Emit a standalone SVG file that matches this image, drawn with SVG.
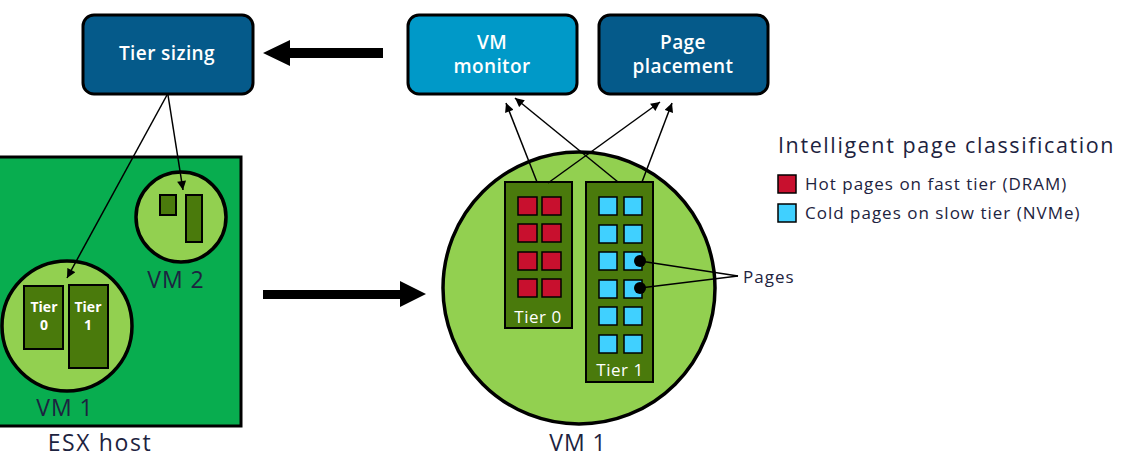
<svg xmlns="http://www.w3.org/2000/svg" width="1129" height="466" viewBox="0 0 1129 466">
<defs>
<marker id="ah" viewBox="0 0 10 10" refX="10" refY="5" markerWidth="10" markerHeight="9" markerUnits="userSpaceOnUse" orient="auto"><path d="M0,0 L10,5 L0,10 z" fill="#000"/></marker>
<style>
.box{stroke:#000;stroke-width:3}
.bt{font-family:"Open Sans","Liberation Sans",sans-serif;font-weight:600;font-size:19px;fill:#fff;text-anchor:middle;letter-spacing:0.4px}
.lbl{font-family:"Open Sans","Liberation Sans",sans-serif;font-weight:500;fill:#1d2340;text-anchor:middle;letter-spacing:1px}
.vm{fill:#92d050;stroke:#000;stroke-width:3.5}
.tier{fill:#4a7a0c;stroke:#000;stroke-width:2}
.tt{font-family:"Open Sans","Liberation Sans",sans-serif;font-weight:700;fill:#fff;text-anchor:middle}
.tl{font-family:"Open Sans","Liberation Sans",sans-serif;font-weight:400;fill:#fff;text-anchor:middle;letter-spacing:0.5px}
.hot{fill:#c8102e;stroke:#000;stroke-width:1.5}
.cold{fill:#40d0ff;stroke:#000;stroke-width:1.5}
.thin{stroke:#000;stroke-width:1.5;fill:none}
.leg{font-family:"Open Sans","Liberation Sans",sans-serif;fill:#1d2340}
</style>
</defs>
<rect width="1129" height="466" fill="#fff"/>

<g id="esx-host">
<rect x="-5" y="157" width="246" height="269" fill="#08ad4f" stroke="#000" stroke-width="3"/>
<text class="lbl" x="100" y="451" font-size="23" style="letter-spacing:1.6px">ESX host</text>
</g>

<g id="vm2-small">
<circle class="vm" cx="181" cy="217" r="45"/>
<rect class="tier" x="160" y="195" width="16" height="20"/>
<rect class="tier" x="186" y="195" width="16" height="47"/>
<text class="lbl" x="176" y="288" font-size="23">VM 2</text>
</g>

<g id="vm1-small">
<circle class="vm" cx="67" cy="326" r="65"/>
<rect class="tier" x="24" y="286" width="39" height="63"/>
<rect class="tier" x="69" y="285" width="39" height="83"/>
<text class="tt" x="44" y="312" font-size="14">Tier</text>
<text class="tt" x="44" y="330" font-size="14">0</text>
<text class="tt" x="88" y="312" font-size="14">Tier</text>
<text class="tt" x="88" y="330" font-size="14">1</text>
<text class="lbl" x="65" y="416" font-size="23">VM 1</text>
</g>

<g id="tier-sizing">
<rect class="box" x="83" y="15" width="170" height="79" rx="11" fill="#055a8a"/>
<text class="bt" x="167" y="60">Tier sizing</text>
</g>

<g id="vm-monitor">
<rect class="box" x="408" y="15" width="169" height="79" rx="11" fill="#0099c8"/>
<text class="bt" x="492" y="49">VM</text>
<text class="bt" x="492" y="73">monitor</text>
</g>

<g id="page-placement">
<rect class="box" x="599" y="15" width="169" height="79" rx="11" fill="#055a8a"/>
<text class="bt" x="683" y="49">Page</text>
<text class="bt" x="683" y="73">placement</text>
</g>

<g id="vm1-large">
<circle class="vm" cx="579" cy="288" r="136"/>
<rect class="tier" x="505" y="182" width="67" height="146"/>
<rect class="tier" x="586" y="182" width="67" height="200"/>
<g>
<rect class="hot" x="518" y="197" width="19" height="18"/><rect class="hot" x="542" y="197" width="19" height="18"/>
<rect class="hot" x="518" y="224" width="19" height="18"/><rect class="hot" x="542" y="224" width="19" height="18"/>
<rect class="hot" x="518" y="252" width="19" height="18"/><rect class="hot" x="542" y="252" width="19" height="18"/>
<rect class="hot" x="518" y="279" width="19" height="18"/><rect class="hot" x="542" y="279" width="19" height="18"/>
</g>
<g>
<rect class="cold" x="599" y="197" width="18" height="18"/><rect class="cold" x="624" y="197" width="18" height="18"/>
<rect class="cold" x="599" y="225" width="18" height="18"/><rect class="cold" x="624" y="225" width="18" height="18"/>
<rect class="cold" x="599" y="252" width="18" height="18"/><rect class="cold" x="624" y="252" width="18" height="18"/>
<rect class="cold" x="599" y="280" width="18" height="18"/><rect class="cold" x="624" y="280" width="18" height="18"/>
<rect class="cold" x="599" y="307" width="18" height="18"/><rect class="cold" x="624" y="307" width="18" height="18"/>
<rect class="cold" x="599" y="335" width="18" height="18"/><rect class="cold" x="624" y="335" width="18" height="18"/>
</g>
<text class="tl" x="538" y="323" font-size="17">Tier 0</text>
<text class="tl" x="620" y="376" font-size="17">Tier 1</text>
<text class="lbl" x="578" y="451" font-size="23">VM 1</text>
</g>

<g id="pages-label">
<text class="leg" x="743" y="283" font-size="17" style="letter-spacing:1px">Pages</text>
</g>

<g id="legend">
<text class="leg" x="778" y="153" font-size="21.5" style="letter-spacing:1.6px">Intelligent page classification</text>
<rect class="hot" x="778" y="175" width="18" height="18"/>
<text class="leg" x="805" y="190" font-size="17" style="letter-spacing:1px">Hot pages on fast tier (DRAM)</text>
<rect class="cold" x="778" y="204" width="18" height="18"/>
<text class="leg" x="805" y="219" font-size="17" style="letter-spacing:1px">Cold pages on slow tier (NVMe)</text>
</g>

<g id="connectors">
<path d="M383,48 L290,48 L290,40 L263,53 L290,66 L290,58 L383,58 z" fill="#000"/>
<path d="M263,290 L400,290 L400,281 L426,294 L400,307 L400,299 L263,299 z" fill="#000"/>
<line class="thin" x1="167" y1="95" x2="67" y2="278" marker-end="url(#ah)"/>
<line class="thin" x1="168" y1="95" x2="183" y2="190" marker-end="url(#ah)"/>
<line class="thin" x1="537" y1="182" x2="506" y2="103" marker-end="url(#ah)"/>
<line class="thin" x1="618" y1="182" x2="515" y2="98" marker-end="url(#ah)"/>
<line class="thin" x1="548" y1="183" x2="660" y2="102" marker-end="url(#ah)"/>
<line class="thin" x1="642" y1="182" x2="672" y2="103" marker-end="url(#ah)"/>
<line class="thin" x1="640" y1="261" x2="738" y2="276"/>
<line class="thin" x1="640" y1="288" x2="738" y2="276"/>
<circle cx="640" cy="261" r="6" fill="#000"/>
<circle cx="640" cy="288" r="6" fill="#000"/>
</g>
</svg>
